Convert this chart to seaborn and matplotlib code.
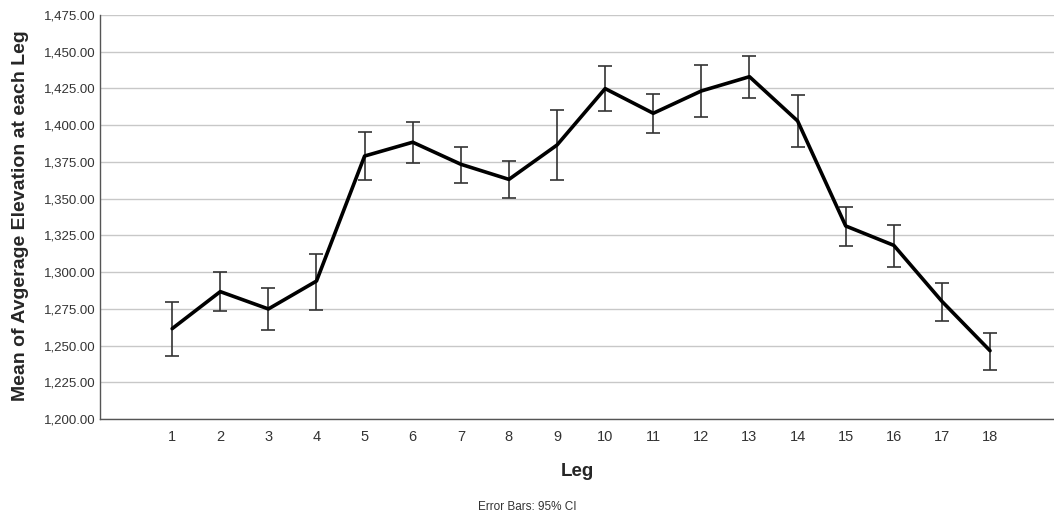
import numpy as np
import matplotlib
matplotlib.use('Agg')
import matplotlib.pyplot as plt
import seaborn as sns

# Values
legs = list(range(1, 19))
mean_elev = [1261.5, 1286.7, 1274.9, 1293.9, 1379.0, 1388.4, 1373.4, 1363.1, 1386.5,
             1424.9, 1408.1, 1423.3, 1433.0, 1402.9, 1331.4, 1318.2, 1280.1, 1246.5]
ci_low = [1242.9, 1273.5, 1260.8, 1274.4, 1362.7, 1374.0, 1360.7, 1350.4, 1362.7,
          1409.5, 1394.7, 1405.4, 1418.7, 1384.9, 1317.8, 1303.3, 1266.9, 1233.4]
ci_high = [1279.8, 1299.9, 1289.4, 1312.5, 1395.6, 1402.4, 1385.4, 1375.8, 1410.6,
           1440.5, 1421.2, 1441.0, 1447.0, 1420.8, 1344.5, 1332.3, 1292.8, 1258.3]

sns.set_style('white')
plt.rcParams['font.family'] = ['Liberation Sans', 'DejaVu Sans']

fig = plt.figure(figsize=(10.54, 5.16), dpi=100)
ax = fig.add_axes([100 / 1054, 1 - 419 / 516, 1 - 100 / 1054, (419 - 15) / 516])

means = np.array(mean_elev)
yerr = [means - np.array(ci_low), np.array(ci_high) - means]
ax.errorbar(legs, means, yerr=yerr, fmt='none', ecolor='#333333',
            elinewidth=1.2, capsize=5, capthick=1.2, zorder=3)
sns.lineplot(x=legs, y=mean_elev, color='black', linewidth=2.6, ax=ax, zorder=4)

ax.set_xlim(-0.5, 19.33)
ax.set_ylim(1200, 1475)
ax.set_yticks(np.arange(1200, 1476, 25))
ax.set_yticklabels([f'{v:,.2f}' for v in np.arange(1200, 1476, 25)])
ax.set_xticks(legs)
ax.set_xticklabels([str(l) for l in legs])
ax.tick_params(axis='y', labelsize=9.5, colors='#333333', length=0, pad=3)
ax.tick_params(axis='x', labelsize=10.5, colors='#333333', length=0, pad=8)

ax.yaxis.grid(True, color='#c8c8c8', linewidth=1)
ax.set_axisbelow(True)
for s in ['top', 'right']:
    ax.spines[s].set_visible(False)
for s in ['left', 'bottom']:
    ax.spines[s].set_color('#555555')
    ax.spines[s].set_linewidth(1)

ax.set_xlabel('Leg', fontsize=13.5, fontweight='bold')
ax.xaxis.set_label_coords(0.5, -(471 - 419) / 404, transform=ax.transAxes)
ax.xaxis.label.set_va('center')
ax.set_ylabel('Mean of Avgerage Elevation at each Leg', fontsize=14,
              fontweight='bold')
ax.yaxis.set_label_coords(-(100 - 21) / 954, (419 - 216) / 404)
ax.yaxis.label.set_va('center')
fig.text(0.5, 1 - 507 / 516, 'Error Bars: 95% CI', ha='center', va='center',
         fontsize=8.5, color='#333333')

fig.savefig('out.png', dpi=100)
